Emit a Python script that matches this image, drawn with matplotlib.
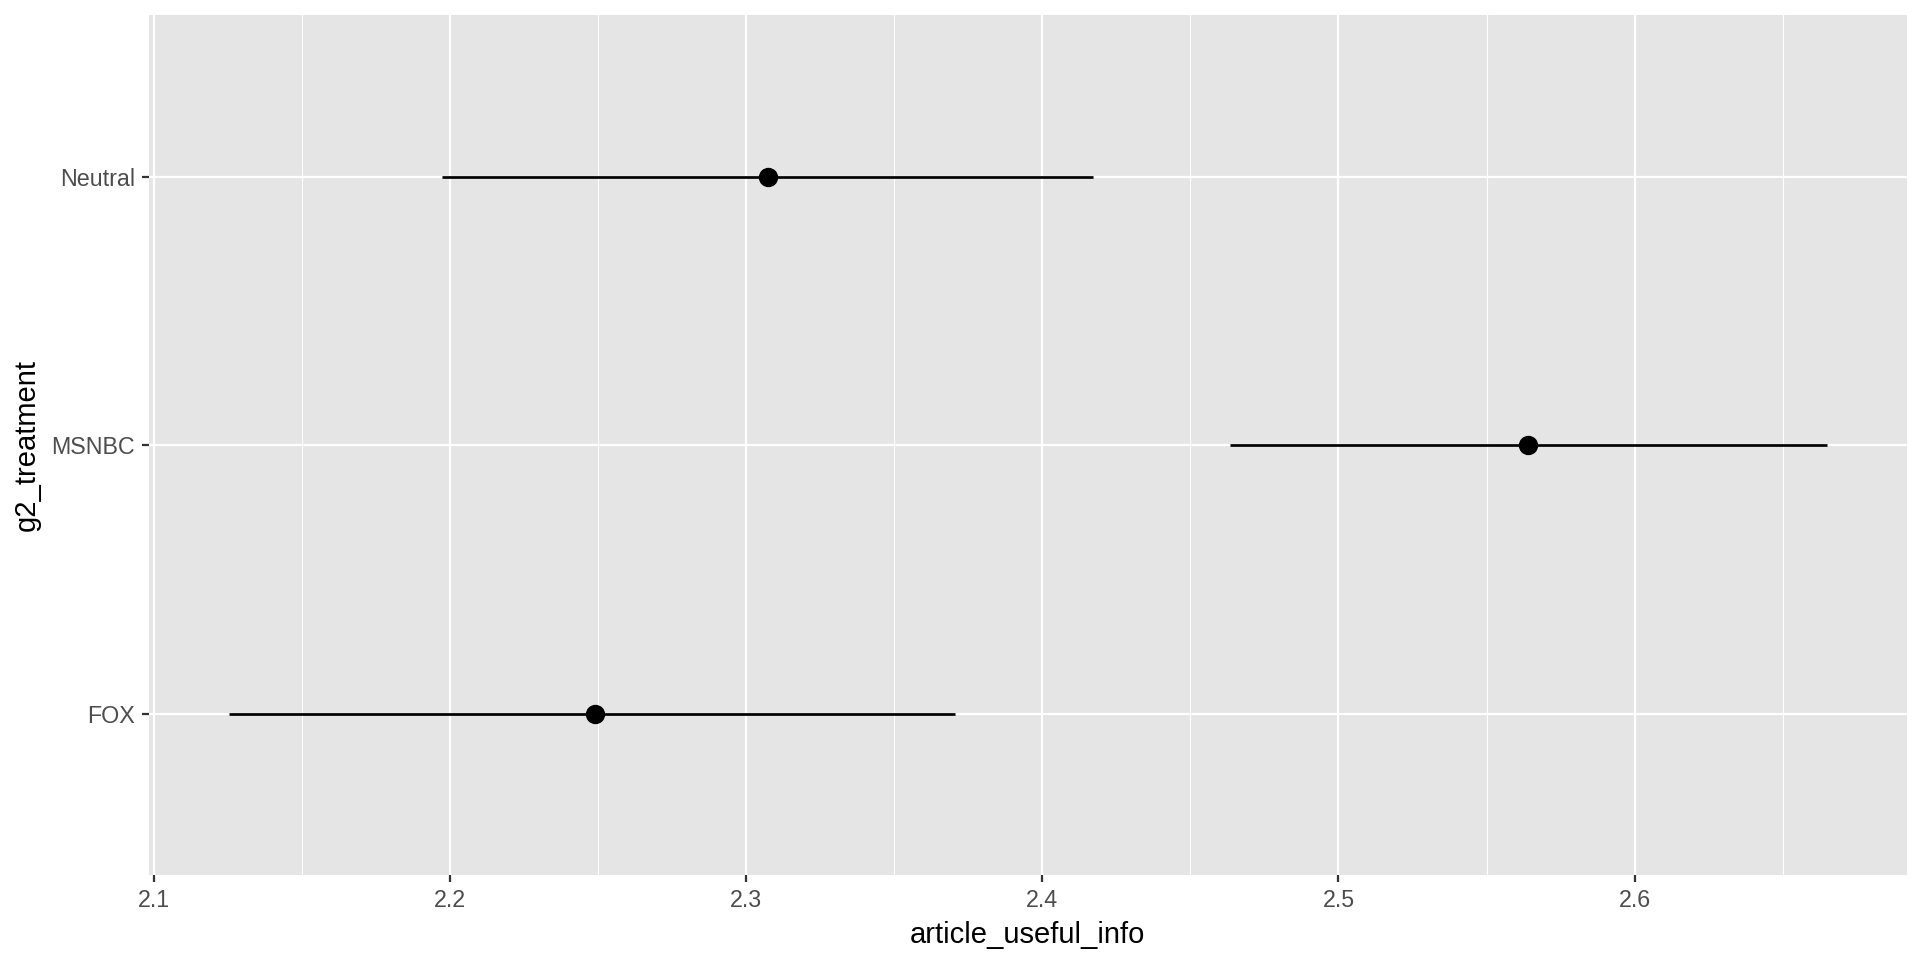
import numpy as np
import matplotlib.pyplot as plt
from matplotlib.ticker import MultipleLocator

# estimated means and interval ends for article_useful_info by treatment
groups = ['FOX', 'MSNBC', 'Neutral']
means = [2.2488, 2.5640, 2.3072]
lower = [2.1252, 2.4634, 2.1972]
upper = [2.3705, 2.6649, 2.4172]

plt.rcParams['font.family'] = ['Liberation Sans', 'DejaVu Sans']

fig = plt.figure(figsize=(12.8, 6.4), dpi=150)
ax = fig.add_axes([0.0776, 0.0885, 0.9154, 0.8955])
ax.set_facecolor('#E5E5E5')

ypos = np.arange(1, len(groups) + 1)
ax.hlines(ypos, lower, upper, color='black', linewidth=1.3, zorder=3)
ax.plot(means, ypos, 'o', color='black', markersize=8.3, zorder=4)

# ggplot-style expansion
lo, hi = min(lower), max(upper)
pad = (hi - lo) * 0.05
ax.set_xlim(lo - pad, hi + pad)
ax.set_ylim(0.4, len(groups) + 0.6)

ax.xaxis.set_major_locator(MultipleLocator(0.1))
ax.xaxis.set_minor_locator(MultipleLocator(0.05))
ax.set_yticks(ypos)
ax.set_yticklabels(groups)

ax.grid(which='major', color='white', linewidth=1.07, zorder=0)
ax.grid(which='minor', axis='x', color='white', linewidth=0.53, zorder=0)
ax.set_axisbelow(True)
for s in ax.spines.values():
    s.set_visible(False)

ax.tick_params(which='major', length=3.3, width=1.07, color='#333333',
               labelcolor='#4D4D4D', labelsize=11.2, pad=3.5)
ax.tick_params(which='minor', length=0)

ax.set_xlabel('article_useful_info', fontsize=14, color='black', labelpad=4)
ax.set_ylabel('g2_treatment', fontsize=14, color='black', labelpad=5)

plt.savefig('out.png', dpi=150)
